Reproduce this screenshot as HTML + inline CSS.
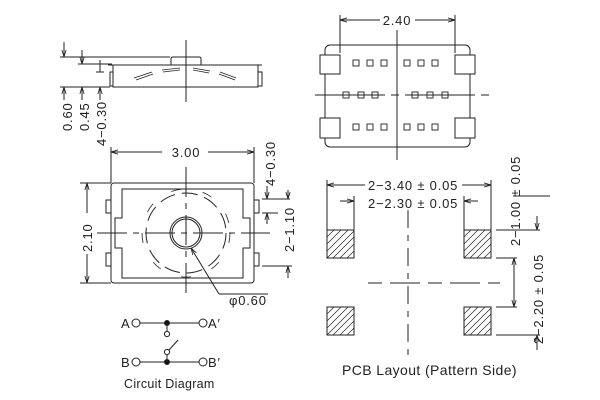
<!DOCTYPE html>
<html><head><meta charset="utf-8"><style>
html,body{margin:0;padding:0;background:#fff}
svg{display:block}
text{font-family:"Liberation Sans",sans-serif;fill:#222}
</style></head><body>
<svg width="600" height="400" viewBox="0 0 600 400" xmlns="http://www.w3.org/2000/svg">
<defs>
<marker id="a" viewBox="0 0 10 10" refX="10" refY="5" markerWidth="7" markerHeight="7" orient="auto-start-reverse"><path d="M0,2 L10,5 L0,8" fill="none" stroke="#222" stroke-width="1.2"/></marker>
</defs>
<g stroke="#222" stroke-width="1" fill="none">
<!-- side view -->
<rect x="113" y="65" width="145" height="22"/>
<line x1="108" y1="65" x2="262" y2="65"/>
<path d="M171,65 V59 Q171,57 173,57 H199 Q201,57 201,59 V65"/>
<path d="M113,72 H110 V86 H113"/><path d="M258,72 H262 V86 H258"/>
<line x1="186" y1="40" x2="186" y2="102"/>
<path d="M134,78 L152,72 M136,80 L153,74 M162,70 L180,68 M163,72 L180,70 M193,68 L210,71 M193,70 L209,73 M220,72 L236,78 M219,74 L235,80" stroke-width="0.8"/>
<line x1="60" y1="57" x2="170" y2="57"/>
<line x1="78" y1="64" x2="112" y2="64"/>
<line x1="60" y1="87" x2="110" y2="87"/>
<line x1="64" y1="42" x2="64" y2="57" marker-end="url(#a)"/>
<line x1="82" y1="50" x2="82" y2="64" marker-end="url(#a)"/>
<line x1="100" y1="60" x2="100" y2="72"/><line x1="96" y1="72" x2="104" y2="72"/>
<line x1="64" y1="100" x2="64" y2="87" marker-end="url(#a)"/>
<line x1="82" y1="100" x2="82" y2="87" marker-end="url(#a)"/>
<line x1="100" y1="100" x2="100" y2="87" marker-end="url(#a)"/>
<!-- top view -->
<rect x="111" y="183" width="143" height="100" rx="3"/>
<path d="M122,189 H243 V218 H250 V248 H243 V278 H122 V248 H115 V218 H122 Z"/>
<rect x="106" y="200" width="5" height="13"/><rect x="106" y="253" width="5" height="13"/>
<rect x="254" y="200" width="5" height="13"/><rect x="254" y="253" width="5" height="13"/>
<circle cx="186" cy="233" r="16"/><circle cx="186" cy="233" r="14"/>
<circle cx="186" cy="233" r="40" stroke-dasharray="16 7"/>
<circle cx="186" cy="233" r="44" stroke-dasharray="10 22" stroke-width="0.8"/>
<line x1="97" y1="233" x2="270" y2="233" stroke-dasharray="30 6 6 6"/>
<line x1="186" y1="167" x2="186" y2="297" stroke-dasharray="30 6 6 6"/>
<line x1="111" y1="147" x2="111" y2="183"/><line x1="254" y1="147" x2="254" y2="183"/>
<line x1="162" y1="152" x2="111" y2="152" marker-end="url(#a)"/>
<line x1="208" y1="152" x2="254" y2="152" marker-end="url(#a)"/>
<line x1="80" y1="183" x2="111" y2="183"/><line x1="80" y1="283" x2="111" y2="283"/>
<line x1="87" y1="213" x2="87" y2="183" marker-end="url(#a)"/>
<line x1="87" y1="254" x2="87" y2="283" marker-end="url(#a)"/>
<line x1="262" y1="199" x2="290" y2="199"/><line x1="262" y1="213" x2="278" y2="213"/><line x1="262" y1="266" x2="292" y2="266"/>
<line x1="267" y1="186" x2="267" y2="199" marker-end="url(#a)"/>
<line x1="267" y1="224" x2="267" y2="213" marker-end="url(#a)"/>
<line x1="288" y1="190" x2="288" y2="199" marker-end="url(#a)"/>
<line x1="288" y1="278" x2="288" y2="266" marker-end="url(#a)"/>
<path d="M219,294 H268" /><line x1="219" y1="294" x2="191" y2="248" marker-end="url(#a)"/>
<!-- bottom view -->
<rect x="325" y="45" width="145" height="102" rx="5"/>
<rect x="320" y="55" width="20" height="19" fill="#fff"/><rect x="455" y="55" width="20" height="19" fill="#fff"/>
<rect x="320" y="118" width="20" height="20" fill="#fff"/><rect x="455" y="118" width="20" height="20" fill="#fff"/>
<g stroke-width="0.9">
<rect x="353" y="60" width="6" height="6"/><rect x="367" y="60" width="6" height="6"/><rect x="381" y="60" width="6" height="6"/>
<rect x="404" y="60" width="6" height="6"/><rect x="418" y="60" width="6" height="6"/><rect x="432" y="60" width="6" height="6"/>
<rect x="343" y="92" width="6" height="6"/><rect x="358" y="92" width="6" height="6"/><rect x="372" y="92" width="6" height="6"/>
<rect x="412" y="92" width="6" height="6"/><rect x="427" y="92" width="6" height="6"/><rect x="442" y="92" width="6" height="6"/>
<rect x="353" y="124" width="6" height="6"/><rect x="367" y="124" width="6" height="6"/><rect x="381" y="124" width="6" height="6"/>
<rect x="404" y="124" width="6" height="6"/><rect x="418" y="124" width="6" height="6"/><rect x="432" y="124" width="6" height="6"/>
</g>
<line x1="397" y1="30" x2="397" y2="160"/>
<line x1="315" y1="95" x2="490" y2="95" stroke-dasharray="70 6 8 6"/>
<line x1="340" y1="15" x2="340" y2="53"/><line x1="455" y1="15" x2="455" y2="53"/>
<line x1="380" y1="20" x2="340" y2="20" marker-end="url(#a)"/>
<line x1="415" y1="20" x2="455" y2="20" marker-end="url(#a)"/>
<!-- PCB pads -->
<g id="pad"><rect x="327" y="230" width="27" height="28"/>
<path stroke-width="0.7" d="M327,237 L334,230 M327,244 L341,230 M327,251 L348,230 M327,258 L354,231 M333,258 L354,237 M340,258 L354,244 M347,258 L354,251"/></g>
<use href="#pad" x="137" y="0"/><use href="#pad" x="0" y="77"/><use href="#pad" x="137" y="77"/>
<line x1="408" y1="210" x2="408" y2="355" stroke-dasharray="18 7 6 7"/>
<line x1="368" y1="283" x2="500" y2="283" stroke-dasharray="14 8 30 8"/>
<line x1="327" y1="180" x2="327" y2="230"/><line x1="491" y1="180" x2="491" y2="230"/>
<line x1="354" y1="196" x2="354" y2="230"/><line x1="464" y1="196" x2="464" y2="230"/>
<line x1="365" y1="185" x2="327" y2="185" marker-end="url(#a)"/>
<line x1="462" y1="185" x2="491" y2="185" marker-end="url(#a)"/>
<line x1="340" y1="201" x2="354" y2="201" marker-end="url(#a)"/>
<line x1="478" y1="201" x2="464" y2="201" marker-end="url(#a)"/>
<line x1="496" y1="230" x2="540" y2="230"/><line x1="496" y1="258" x2="517" y2="258"/>
<line x1="496" y1="307" x2="517" y2="307"/><line x1="496" y1="335" x2="540" y2="335"/>
<line x1="513" y1="196" x2="550" y2="196"/>
<line x1="514" y1="258" x2="514" y2="307" marker-start="url(#a)" marker-end="url(#a)"/>
<line x1="537" y1="216" x2="537" y2="230" marker-end="url(#a)"/>
<line x1="537" y1="350" x2="537" y2="335" marker-end="url(#a)"/>
<!-- circuit -->
<line x1="140" y1="323" x2="199" y2="323"/><line x1="140" y1="362" x2="199" y2="362"/>
<circle cx="136" cy="323" r="4" fill="#fff"/><circle cx="203" cy="323" r="4" fill="#fff"/>
<circle cx="136" cy="362" r="4" fill="#fff"/><circle cx="203" cy="362" r="4" fill="#fff"/>
<circle cx="167" cy="323" r="2.5" fill="#111"/><circle cx="167" cy="362" r="2.5" fill="#111"/>
<line x1="167" y1="323" x2="167" y2="331"/><circle cx="167" cy="334" r="2.6" fill="#fff"/>
<line x1="167" y1="362" x2="167" y2="355"/><circle cx="167" cy="352" r="2.6" fill="#fff"/>
<line x1="169" y1="350" x2="178" y2="340"/>
</g>
<g font-size="13" letter-spacing="0.8">
<text x="186" y="157" text-anchor="middle">3.00</text>
<text x="397" y="25" text-anchor="middle">2.40</text>
<text x="368" y="190">2−3.40 ± 0.05</text>
<text x="368" y="208">2−2.30 ± 0.05</text>
<text x="229" y="305">φ0.60</text>
<text x="121" y="328" font-family="Liberation Serif">A</text><text x="208" y="328" font-family="Liberation Serif">A′</text>
<text x="121" y="367" font-family="Liberation Serif">B</text><text x="208" y="367" font-family="Liberation Serif">B′</text>
<text x="124" y="388" font-size="12.5" letter-spacing="0.3">Circuit Diagram</text>
<text x="342" y="375" font-size="14" letter-spacing="0.4">PCB Layout (Pattern Side)</text>
<text transform="translate(72,131) rotate(-90)">0.60</text>
<text transform="translate(89,131) rotate(-90)">0.45</text>
<text transform="translate(106,146) rotate(-90)">4−0.30</text>
<text transform="translate(92,252) rotate(-90)">2.10</text>
<text transform="translate(275,186) rotate(-90)">4−0.30</text>
<text transform="translate(294,252) rotate(-90)">2−1.10</text>
<text transform="translate(520,246) rotate(-90)">2−1.00 ± 0.05</text>
<text transform="translate(543,344) rotate(-90)">2−2.20 ± 0.05</text>
</g>
</svg>
</body></html>
